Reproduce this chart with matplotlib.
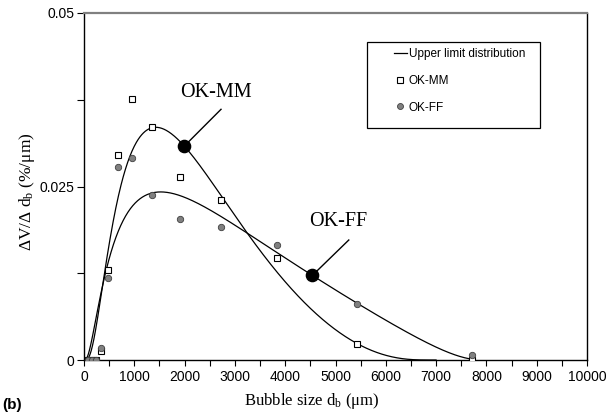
import numpy as np
import matplotlib
matplotlib.use("Agg")
import matplotlib.pyplot as plt
from matplotlib.lines import Line2D
from matplotlib.patches import Rectangle

# ---- data ----
bubble_size = [83, 166, 235, 332, 471, 670, 948, 1346, 1909, 2718, 3843, 5434, 7707]
ok_mm = [0.0, 0.0, 0.0, 0.0013, 0.0129, 0.0295, 0.0376, 0.0336, 0.0264, 0.0230, 0.0147, 0.0023, 0.0]
ok_ff = [0.0, 0.0, 0.0, 0.0018, 0.0118, 0.0278, 0.0291, 0.0238, 0.0203, 0.0191, 0.0166, 0.0081, 0.0007]

# upper limit distribution fit parameters (d_max, a, delta)
mm_fit = (7000.0, 2.40, 0.78)
ff_fit = (8000.0, 2.087, 0.66)

series_names = ["OK-MM", "OK-FF"]
label_points_x = [1994, 4540]

xticks = [0, 1000, 2000, 3000, 4000, 5000, 6000, 7000, 8000, 9000, 10000]
yticks = [0, 0.025, 0.05]
ytick_labels = ["0", "0.025", "0.05"]


def upper_limit(d, dmax, a, delta):
    d = np.asarray(d, dtype=float)
    z = np.log(a * d / (dmax - d))
    return 100.0 * delta / np.sqrt(np.pi) * dmax / (d * (dmax - d)) * np.exp(-(delta * z) ** 2)


plt.rcParams["mathtext.fontset"] = "custom"
plt.rcParams["mathtext.rm"] = "Liberation Serif"
plt.rcParams["mathtext.it"] = "Liberation Serif:italic"

W, H = 611, 420
fig = plt.figure(figsize=(W / 100, H / 100), dpi=100)
ax = fig.add_axes([84 / W, 1 - 360 / H, (587 - 84) / W, (360 - 13) / H])

# curves
for (dmax, a, delta) in (mm_fit, ff_fit):
    d = np.linspace(40, min(dmax - 1, bubble_size[-1]), 800)
    ax.plot(d, upper_limit(d, dmax, a, delta), color="black", lw=0.9, zorder=2)

# data markers
ax.plot(bubble_size, ok_mm, linestyle="none", marker="s", ms=4.2, mfc="white",
        mec="black", mew=0.8, zorder=3)
ax.plot(bubble_size, ok_ff, linestyle="none", marker="o", ms=4.6, mfc="#808080",
        mec="#404040", mew=0.6, zorder=3)

# labelled points with leader lines
text_offsets = [(630, 0.0077, 730, 0.0053), (510, 0.0077, 724, 0.0051)]
for (fit, px, name, off) in zip((mm_fit, ff_fit), label_points_x, series_names, text_offsets):
    py = float(upper_limit(px, *fit))
    ax.plot([px], [py], marker="o", ms=8.8, color="black", zorder=4)
    ax.plot([px, px + off[2]], [py, py + off[3]], color="black", lw=1.0, zorder=4)
    ax.text(px + off[0], py + off[1], name, ha="center", va="center",
            fontsize=14.5, family="Liberation Serif")

ax.set_xlim(0, 10000)
ax.set_ylim(0, 0.05)
ax.set_xticks(xticks)
ax.set_xticklabels([str(t) for t in xticks])
ax.set_xticks(np.arange(500, 10000, 1000), minor=True)
ax.set_yticks(yticks)
ax.set_yticklabels(ytick_labels)
ax.set_yticks([0.0125, 0.0375], minor=True)
ax.tick_params(axis="both", which="both", direction="out", length=4, width=0.8,
               labelsize=10, colors="black")
ax.tick_params(axis="y", which="both", length=5, pad=2)
ax.tick_params(axis="x", which="both", pad=3)
for lab in ax.get_xticklabels() + ax.get_yticklabels():
    lab.set_family("Liberation Sans")

for s in ("left", "bottom", "right"):
    ax.spines[s].set_color("black")
    ax.spines[s].set_linewidth(1.0)
ax.spines["top"].set_color("#808080")
ax.spines["top"].set_linewidth(1.6)

# axis labels
fig.text(27 / W, 1 - 192 / H, r"$\Delta$V/$\Delta$ d$_{\mathrm{b}}$ (%/μm)", rotation=90,
         ha="center", va="center", fontsize=12.5, family="Liberation Serif")
fig.text(312 / W, 1 - 401 / H, r"Bubble size d$_{\mathrm{b}}$ (μm)", ha="center",
         va="center", fontsize=12, family="Liberation Serif")
fig.text(2 / W, 1 - 405 / H, "(b)", ha="left", va="center", fontsize=11,
         fontweight="bold", family="Liberation Sans")

# legend
handles = [
    Line2D([], [], color="black", lw=0.9),
    Line2D([], [], linestyle="none", marker="s", ms=4.0, mfc="white", mec="black", mew=0.8),
    Line2D([], [], linestyle="none", marker="o", ms=4.3, mfc="#808080", mec="#404040", mew=0.6),
]
leg = ax.legend(handles, ["Upper limit distribution"] + series_names,
                loc="upper left", bbox_to_anchor=(394 / W, 1 - 48 / H),
                bbox_transform=fig.transFigure, frameon=False, borderpad=0,
                borderaxespad=0, handlelength=1.1, handletextpad=0.15,
                labelspacing=1.25, prop={"family": "Liberation Sans", "size": 8.5})
fig.patches.append(Rectangle((367.3 / W, 1 - 127.7 / H), 172.7 / W, 86 / H,
                             transform=fig.transFigure, fill=False,
                             edgecolor="black", lw=0.9, zorder=5))

fig.savefig("out.png", dpi=100)
